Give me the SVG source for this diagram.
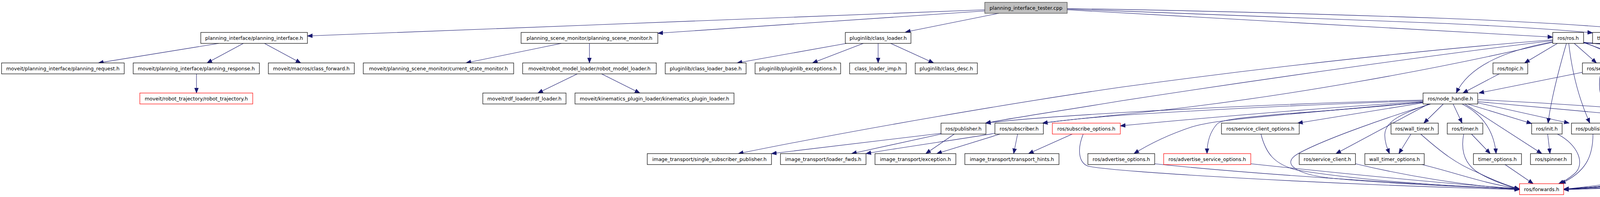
<svg xmlns="http://www.w3.org/2000/svg" width="5011" height="504" viewBox="0 0 5011 504">
<style>
.node rect{fill:#ffffff;stroke:#000000;stroke-width:1.2}
.node.red rect{stroke:#ff0000}
.node.grey rect{stroke:#bfbfbf}
.node.root rect{fill:#bfbfbf;stroke:#404040}
.node text{font-family:"DejaVu Sans","Liberation Sans",sans-serif;font-size:12.6px;text-anchor:middle;fill:#000000}
.e path{fill:none;stroke:#191970;stroke-width:1.1;marker-end:url(#a)}
</style>
<defs>
<marker id="a" markerUnits="userSpaceOnUse" markerWidth="14" markerHeight="12" viewBox="0 0 14 12" refX="13" refY="6" orient="auto">
<path d="M0,1 L13,6 L0,11 z" fill="#191970" stroke="#191970" stroke-width="1"/>
</marker>
</defs>
<rect width="5011" height="504" fill="#ffffff"/>
<g id="edges" class="e">
<!-- cpp -->
<path d="M2521,25 L787,92"/>
<path d="M2521,28 L1684,85"/>
<path d="M2557,34 L2318,82"/>
<path d="M2732,25 L3975,95"/>
<path d="M2732,23 C2950,29 3300,42 3700,60 C3850,67 3980,75 4077,84"/>
<path d="M2732,22 C2950,25 3300,33 3700,47 C3950,57 4150,70 4263,84"/>
<!-- planning_interface -->
<path d="M560,111 L252,161"/>
<path d="M623,111 L530,161"/>
<path d="M677,111 L770,161"/>
<path d="M503,189 L503,238"/>
<!-- psm -->
<path d="M1437,111 L1193,161"/>
<path d="M1509,111 L1509,161"/>
<path d="M1478,189 L1377,238"/>
<path d="M1540,189 L1638,238"/>
<!-- class_loader -->
<path d="M2167,111 L1887,161"/>
<path d="M2210,111 L2080,161"/>
<path d="M2248,111 L2248,161"/>
<path d="M2280,111 L2390,161"/>
<!-- ros.h -->
<path d="M3975,102 C3700,123 3280,167 2870,223 C2600,262 2200,330 1890,393"/>
<path d="M3975,104 C3700,137 3280,195 2870,258 C2720,283 2600,300 2523,315"/>
<path d="M3975,108 C3700,172 3280,253 2870,293 C2800,300 2720,308 2669,315"/>
<path d="M3975,107 C3850,130 3760,170 3728,238"/>
<path d="M3987,111 L3903,161"/>
<path d="M4010,111 C3990,180 3970,260 3963,315"/>
<path d="M4016,111 C4025,190 4045,260 4070,315"/>
<path d="M4030,111 L4087,161"/>
<path d="M4054,108 C4140,140 4200,180 4255,238"/>
<path d="M4054,109 L4420,238"/>
<path d="M4054,110 C4350,125 4460,150 4510,215 C4540,250 4535,280 4516,315"/>
<path d="M4054,108 C4350,140 4520,180 4575,230 C4610,262 4635,290 4652,315"/>
<path d="M4054,110 C4300,115 4550,125 4610,150 C4645,168 4665,205 4680,238"/>
<path d="M4054,110 C4300,112 4550,125 4693,177 C4740,195 4775,215 4800,238"/>
<path d="M4054,110 C4400,112 4650,130 4727,160 C4750,170 4770,180 4790,190 L4912,238"/>
<path d="M4240,110 C4450,125 4650,140 4788,164"/>
<!-- service.h -->
<path d="M4051,185 L3786,238"/>
<path d="M4154,185 L4412,238"/>
<path d="M4097,189 C4088,240 4105,280 4140,310 C4165,335 4180,360 4195,393"/>
<path d="M4107,189 C4120,250 4160,290 4250,345 C4300,380 4300,410 4260,440 C4220,468 4100,478 4003,484"/>
<path d="M3838,189 L3745,238"/>
<!-- node_handle -->
<path d="M3643,256 C3400,262 3100,275 2870,288 C2720,297 2600,305 2523,315"/>
<path d="M3643,258 C3400,265 3100,280 2870,295 C2790,301 2720,308 2669,315"/>
<path d="M3643,260 C3400,275 3100,300 2868,322"/>
<path d="M3643,261 C3500,275 3350,288 3290,293 C3170,305 3100,310 3050,325 C2990,345 2940,370 2903,393"/>
<path d="M3643,262 C3500,275 3350,287 3290,291 C3170,302 3125,306 3115,318 C3100,335 3090,360 3090,393"/>
<path d="M3643,263 L3322,315"/>
<path d="M3657,266 L3420,393"/>
<path d="M3660,266 C3590,290 3545,310 3545,345 C3545,365 3552,380 3557,393"/>
<path d="M3695,266 L3645,315"/>
<path d="M3720,266 L3743,315"/>
<path d="M3743,266 C3800,295 3825,340 3830,393"/>
<path d="M3750,266 L3947,393"/>
<path d="M3757,266 L3921,316"/>
<path d="M3783,263 L4017,315"/>
<path d="M3783,255 C4100,270 4400,295 4587,318"/>
<path d="M3783,260 L4100,289 L4439,323"/>
<path d="M3663,266 C3550,300 3380,360 3320,395 C3280,420 3320,445 3400,455 C3550,470 3750,478 3890,484"/>
<!-- left publisher / subscriber -->
<path d="M2409,341 L1975,393"/>
<path d="M2409,343 L2180,393"/>
<path d="M2443,343 L2370,393"/>
<path d="M2547,341 C2480,353 2300,378 2217,393"/>
<path d="M2560,343 L2398,393"/>
<path d="M2605,343 L2595,393"/>
<path d="M2745,343 L2633,393"/>
<!-- into forwards from left -->
<path d="M2773,343 C2758,380 2760,415 2785,425 C2850,440 3400,472 3890,485"/>
<path d="M2956,419 C3200,445 3600,470 3890,484"/>
<path d="M3202,419 C3400,440 3700,470 3890,483"/>
<path d="M3228,343 C3240,390 3260,420 3320,435 C3500,465 3750,478 3890,484"/>
<path d="M3470,419 C3600,450 3750,475 3890,484"/>
<path d="M3640,421 C3720,440 3800,470 3890,483"/>
<path d="M3637,343 C3690,390 3730,420 3780,440 C3820,460 3860,475 3890,484"/>
<path d="M3612,343 L3581,393"/>
<path d="M3747,343 C3740,380 3745,420 3790,445 C3820,462 3860,476 3890,484"/>
<path d="M3767,343 L3815,393"/>
<path d="M3853,421 L3925,470"/>
<path d="M3962,343 L3968,393"/>
<path d="M3987,343 C4040,370 4060,420 4030,445 C4015,458 4002,465 3990,470"/>
<path d="M4078,343 C4078,400 4060,440 3995,470"/>
<path d="M4103,343 L4178,393"/>
<!-- into forwards from right -->
<path d="M4283,266 C4340,340 4345,400 4320,425 C4280,450 4100,475 4003,484"/>
<path d="M4453,266 C4410,350 4370,410 4320,435 C4250,465 4100,478 4003,484"/>
<path d="M4493,343 C4460,400 4400,430 4300,450 C4200,470 4100,478 4003,484"/>
<path d="M4637,343 C4560,390 4450,425 4300,455 C4200,472 4100,480 4003,484"/>
<path d="M4710,266 C4760,310 4770,340 4740,365 C4700,400 4600,410 4510,423 C4300,450 4100,480 4003,485"/>
<path d="M4817,266 C4790,330 4740,380 4660,415 C4500,455 4200,478 4003,485"/>
<path d="M4940,266 C4850,330 4760,390 4680,420 C4500,470 4200,480 4003,485"/>
</g>
<g id="n0" class="node root"><rect x="2521" y="6" width="211" height="28"/><text x="2626.5" y="24.5">planning_interface_tester.cpp</text></g>
<g id="n1" class="node"><rect x="514" y="83" width="273" height="28"/><text x="650.5" y="101.5">planning_interface/planning_interface.h</text></g>
<g id="n2" class="node"><rect x="1334" y="83" width="350" height="28"/><text x="1509" y="101.5">planning_scene_monitor/planning_scene_monitor.h</text></g>
<g id="n3" class="node"><rect x="2164" y="83" width="168" height="28"/><text x="2248" y="101.5">pluginlib/class_loader.h</text></g>
<g id="n4" class="node"><rect x="3975" y="83" width="79" height="28"/><text x="4014.5" y="101.5">ros/ros.h</text></g>
<g id="n5" class="node"><rect x="4077" y="83" width="163" height="28"/><text x="4158.5" y="101.5">tf/transform_listener.h</text></g>
<g id="n6" class="node grey"><rect x="4263" y="83" width="105" height="28"/><text x="4315.5" y="101.5">gtest/gtest.h</text></g>
<g id="n7" class="node"><rect x="4" y="161" width="314" height="28"/><text x="161" y="179.5">moveit/planning_interface/planning_request.h</text></g>
<g id="n8" class="node"><rect x="341" y="161" width="323" height="28"/><text x="502.5" y="179.5">moveit/planning_interface/planning_response.h</text></g>
<g id="n9" class="node"><rect x="687" y="161" width="220" height="28"/><text x="797" y="179.5">moveit/macros/class_forward.h</text></g>
<g id="n10" class="node"><rect x="930" y="161" width="385" height="28"/><text x="1122.5" y="179.5">moveit/planning_scene_monitor/current_state_monitor.h</text></g>
<g id="n11" class="node"><rect x="1338" y="161" width="342" height="28"/><text x="1509" y="179.5">moveit/robot_model_loader/robot_model_loader.h</text></g>
<g id="n12" class="node"><rect x="1703" y="161" width="207" height="28"/><text x="1806.5" y="179.5">pluginlib/class_loader_base.h</text></g>
<g id="n13" class="node"><rect x="1933" y="161" width="219" height="28"/><text x="2042.5" y="179.5">pluginlib/pluginlib_exceptions.h</text></g>
<g id="n14" class="node"><rect x="2175" y="161" width="145" height="28"/><text x="2247.5" y="179.5">class_loader_imp.h</text></g>
<g id="n15" class="node"><rect x="2343" y="161" width="159" height="28"/><text x="2422.5" y="179.5">pluginlib/class_desc.h</text></g>
<g id="n16" class="node"><rect x="3822" y="161" width="89" height="28"/><text x="3866.5" y="179.5">ros/topic.h</text></g>
<g id="n17" class="node"><rect x="4051" y="161" width="103" height="28"/><text x="4102.5" y="179.5">ros/service.h</text></g>
<g id="n18" class="node red"><rect x="4788" y="161" width="55" height="28"/><text x="4815.5" y="179.5">tf/tf.h</text></g>
<g id="n19" class="node red"><rect x="358" y="238" width="289" height="28"/><text x="502.5" y="256.5">moveit/robot_trajectory/robot_trajectory.h</text></g>
<g id="n20" class="node"><rect x="1236" y="238" width="213" height="28"/><text x="1342.5" y="256.5">moveit/rdf_loader/rdf_loader.h</text></g>
<g id="n21" class="node"><rect x="1472" y="238" width="407" height="28"/><text x="1675.5" y="256.5">moveit/kinematics_plugin_loader/kinematics_plugin_loader.h</text></g>
<g id="n22" class="node"><rect x="3643" y="238" width="140" height="28"/><text x="3713" y="256.5">ros/node_handle.h</text></g>
<g id="n23" class="node"><rect x="4154" y="238" width="233" height="28"/><text x="4270.5" y="256.5">ros/single_subscriber_publisher.h</text></g>
<g id="n24" class="node"><rect x="4410" y="238" width="103" height="28"/><text x="4461.5" y="256.5">ros/names.h</text></g>
<g id="n25" class="node"><rect x="4636" y="238" width="103" height="28"/><text x="4687.5" y="256.5">ros/master.h</text></g>
<g id="n26" class="node"><rect x="4762" y="238" width="121" height="28"/><text x="4822.5" y="256.5">ros/this_node.h</text></g>
<g id="n27" class="node"><rect x="4906" y="238" width="100" height="28"/><text x="4956" y="256.5">ros/param.h</text></g>
<g id="n28" class="node"><rect x="2409" y="315" width="115" height="28"/><text x="2466.5" y="333.5">ros/publisher.h</text></g>
<g id="n29" class="node"><rect x="2547" y="315" width="124" height="28"/><text x="2609" y="333.5">ros/subscriber.h</text></g>
<g id="n30" class="node red"><rect x="2694" y="315" width="174" height="28"/><text x="2781" y="333.5">ros/subscribe_options.h</text></g>
<g id="n31" class="node"><rect x="3127" y="315" width="199" height="28"/><text x="3226.5" y="333.5">ros/service_client_options.h</text></g>
<g id="n32" class="node"><rect x="3561" y="315" width="121" height="28"/><text x="3621.5" y="333.5">ros/wall_timer.h</text></g>
<g id="n33" class="node"><rect x="3705" y="315" width="91" height="28"/><text x="3750.5" y="333.5">ros/timer.h</text></g>
<g id="n34" class="node"><rect x="3921" y="315" width="78" height="28"/><text x="3960" y="333.5">ros/init.h</text></g>
<g id="n35" class="node"><rect x="4023" y="315" width="114" height="28"/><text x="4080" y="333.5">ros/publisher.h</text></g>
<g id="n36" class="node red"><rect x="4439" y="315" width="124" height="28"/><text x="4501" y="333.5">ros/subscriber.h</text></g>
<g id="n37" class="node"><rect x="4587" y="315" width="149" height="28"/><text x="4661.5" y="333.5">ros/service_server.h</text></g>
<g id="n38" class="node"><rect x="1657" y="393" width="318" height="28"/><text x="1816" y="411.5">image_transport/single_subscriber_publisher.h</text></g>
<g id="n39" class="node"><rect x="1998" y="393" width="219" height="28"/><text x="2107.5" y="411.5">image_transport/loader_fwds.h</text></g>
<g id="n40" class="node"><rect x="2240" y="393" width="207" height="28"/><text x="2343.5" y="411.5">image_transport/exception.h</text></g>
<g id="n41" class="node"><rect x="2470" y="393" width="241" height="28"/><text x="2590.5" y="411.5">image_transport/transport_hints.h</text></g>
<g id="n42" class="node"><rect x="2785" y="393" width="171" height="28"/><text x="2870.5" y="411.5">ros/advertise_options.h</text></g>
<g id="n43" class="node red"><rect x="2979" y="393" width="223" height="28"/><text x="3090.5" y="411.5">ros/advertise_service_options.h</text></g>
<g id="n44" class="node"><rect x="3326" y="393" width="144" height="28"/><text x="3398" y="411.5">ros/service_client.h</text></g>
<g id="n45" class="node"><rect x="3494" y="393" width="152" height="28"/><text x="3570" y="411.5">wall_timer_options.h</text></g>
<g id="n46" class="node"><rect x="3772" y="393" width="123" height="28"/><text x="3833.5" y="411.5">timer_options.h</text></g>
<g id="n47" class="node"><rect x="3918" y="393" width="105" height="28"/><text x="3970.5" y="411.5">ros/spinner.h</text></g>
<g id="n48" class="node"><rect x="4148" y="393" width="117" height="28"/><text x="4206.5" y="411.5">ros/message.h</text></g>
<g id="n49" class="node red"><rect x="3890" y="470" width="113" height="28"/><text x="3946.5" y="488.5">ros/forwards.h</text></g>
</svg>
